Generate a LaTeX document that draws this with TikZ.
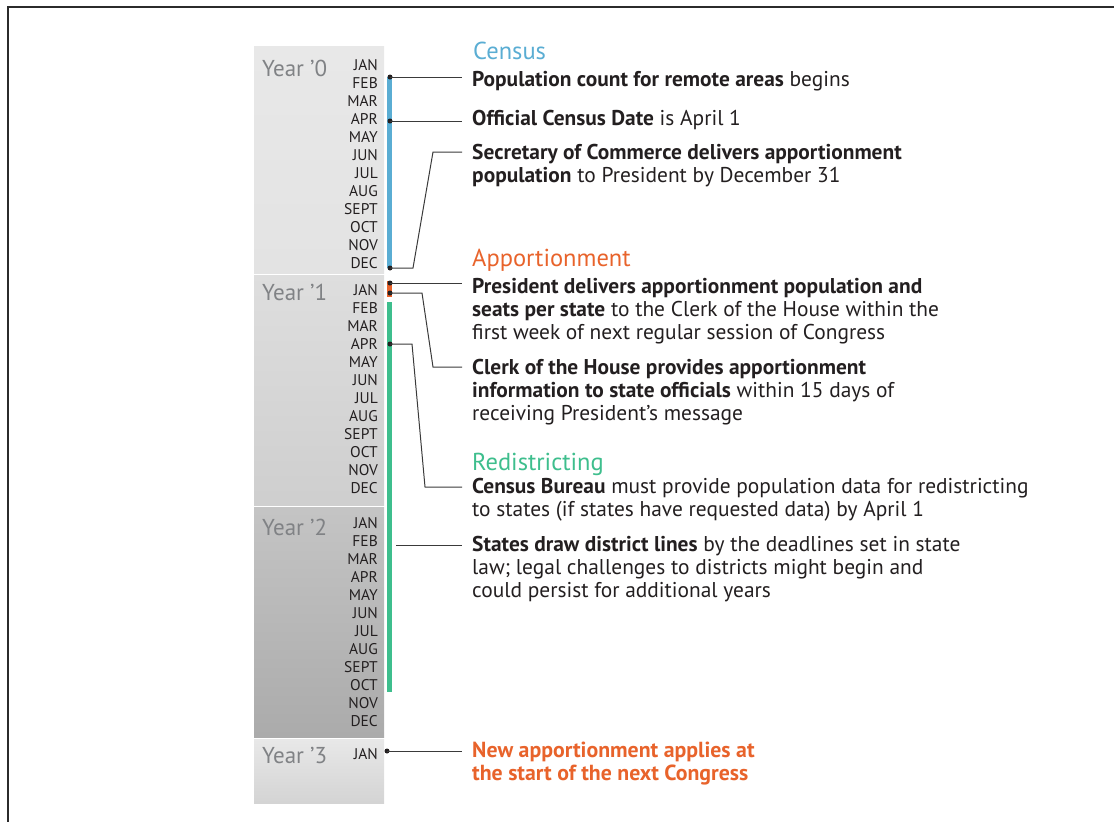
\documentclass[tikz,border=0pt]{standalone}
\usepackage{fontspec}
\setmainfont{PT Sans}
\usetikzlibrary{calc}
\definecolor{ink}{HTML}{231F20}
\definecolor{yrgray}{HTML}{808285}
\definecolor{lnk}{HTML}{3A3A3A}
\definecolor{censblue}{HTML}{5AADD3}
\definecolor{apporange}{HTML}{E8632B}
\definecolor{redgreen}{HTML}{3EBE8D}
\definecolor{frame}{HTML}{2B2B2B}

\tikzset{
  month/.style={anchor=east, inner sep=0pt, text=ink, font=\fontsize{15.5}{16}\selectfont},
  yearlbl/.style={anchor=base west, inner sep=0pt, text=yrgray, font=\fontsize{23}{26}\selectfont},
  head/.style={anchor=base west, inner sep=0pt, font=\fontsize{24.5}{26}\selectfont},
  item/.style={anchor=base west, inner sep=0pt, align=left, text=ink, font=\fontsize{21.4}{23}\selectfont},
  conn/.style={draw=lnk, line width=1pt, shorten >=10pt},
  dot/.style={fill=ink, circle, inner sep=0pt, minimum size=5pt}
}

\begin{document}
\begin{tikzpicture}[x=1pt, y=-1pt]

\useasboundingbox (0,0) rectangle (1114,822);

% Frame (top and left edge only)
\draw[frame, line width=1.5pt] (8,822) -- (8,7) -- (1114,7);

% ============================================================
% Year panels
% ============================================================
\shade[top color=black!9, bottom color=black!11] (254,46) rectangle (384,273);
\shade[top color=black!13, bottom color=black!19] (254,275) rectangle (384,505);
\shade[top color=black!23, bottom color=black!33] (254,507) rectangle (384,737);
\shade[top color=black!9, bottom color=black!17] (254,739) rectangle (384,803);

\node[yearlbl] (yr0) at (262,76) {Year ’0};
\node[yearlbl] (yr1) at (262,300) {Year ’1};
\node[yearlbl] (yr2) at (262,535) {Year ’2};
\node[yearlbl] (yr3) at (262,763) {Year ’3};

% Month labels
\foreach \yr/\top in {0/65, 1/290, 2/523} {
  \foreach \m [count=\i from 0] in {JAN,FEB,MAR,APR,MAY,JUN,JUL,AUG,SEPT,OCT,NOV,DEC}
    \node[month] (y\yr-\m) at (378,\top+\i*18) {\m};
}
\node[month] (y3-JAN) at (378,754) {JAN};

% ============================================================
% Phase bars
% ============================================================
\fill[censblue] (387,77) rectangle (392,268);
\fill[apporange] (387,281) rectangle (392,297);
\fill[redgreen] (387,302) rectangle (392,692);

% ============================================================
% Texts (multi-line nodes sit on the baseline of their last line)
% ============================================================
\node[head, text=censblue] (census) at (473,59) {Census};
\node[item] (popcount) at (472,86) {\textbf{Population count for remote areas} begins};
\node[item] (official) at (472,125) {\textbf{Official Census Date} is April 1};
\node[item] (secy) at (472,182)
  {\textbf{Secretary of Commerce delivers apportionment}\\\textbf{population} to President by December 31};

\node[head, text=apporange] (appor) at (472,266) {Apportionment};
\node[item] (pres) at (472,339)
  {\textbf{President delivers apportionment population and}\\\textbf{seats per state} to the Clerk of the House within the\\first week of next regular session of Congress};
\node[item] (clerk) at (472,420)
  {\textbf{Clerk of the House provides apportionment}\\\textbf{information to state officials} within 15 days of\\receiving President’s message};

\node[head, text=redgreen] (redis) at (472,470) {Redistricting};
\node[item] (bureau) at (472,516)
  {\textbf{Census Bureau} must provide population data for redistricting\\to states (if states have requested data) by April 1};
\node[item] (states) at (472,597)
  {\textbf{States draw district lines} by the deadlines set in state\\law; legal challenges to districts might begin and\\could persist for additional years};

\node[item, text=apporange, font=\fontsize{21.8}{23}\selectfont\bfseries] (newapp) at (472,780)
  {New apportionment applies at\\the start of the next Congress};

% ============================================================
% Dots and connectors
% ============================================================
\node[dot] (d0feb) at (390,77) {};
\node[dot] (d0apr) at (390,121) {};
\node[dot] (d0dec) at (390,268) {};
\node[dot] (d1jan) at (390,283) {};
\node[dot] (d1jan2) at (390,293) {};
\node[dot] (d1apr) at (390,344) {};
\node[dot] (d3jan) at (387,751) {};
\coordinate (d2feb) at (396,545);

\coordinate (k1) at (433,152);
\coordinate (k2) at (433,367);
\coordinate (k3) at (425,487);

\draw[conn] (d0feb.center) -- (d0feb -| popcount.west);
\draw[conn] (d0apr.center) -- (d0apr -| official.west);
\draw[conn] (d0dec.center) -- ++(23,0) -- (k1) -- (k1 -| secy.west);
\draw[conn] (d1jan.center) -- (d1jan -| pres.west);
\draw[conn] (d1jan2.center) -- ++(32,0) -- (k2) -- (k2 -| clerk.west);
\draw[conn] (d1apr.center) -- ++(22,0) -- (k3) -- (k3 -| bureau.west);
\draw[conn] (d2feb) -- (d2feb -| states.west);
\draw[conn] (d3jan.center) -- (d3jan -| newapp.west);

\end{tikzpicture}
\end{document}
